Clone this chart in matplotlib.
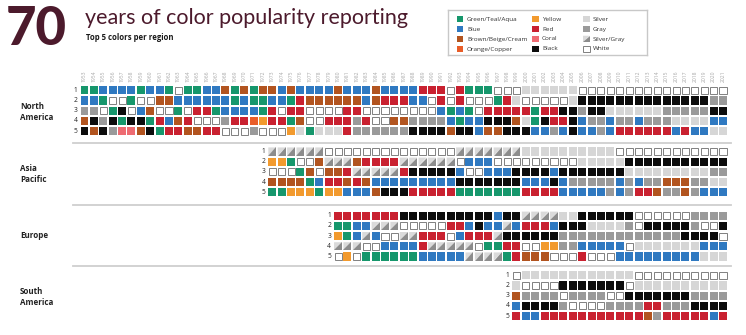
import matplotlib
matplotlib.use("Agg")
import matplotlib.pyplot as plt
from matplotlib.patches import Rectangle, Polygon
from matplotlib.lines import Line2D

# ---------------- data ----------------
years = list(range(1953, 2022))

legend_codes = ["G", "B", "N", "O", "Y", "R", "C", "K", "S", "A", "X", "W"]
legend_labels = ["Green/Teal/Aqua", "Blue", "Brown/Beige/Cream", "Orange/Copper",
                 "Yellow", "Red", "Coral", "Black",
                 "Silver", "Gray", "Silver/Gray", "White"]

region_names = ["North\nAmerica", "Asia\nPacific", "Europe", "South\nAmerica"]
region_start_years = [1953, 1973, 1980, 1999]

# rank 1..5 per region, one code per year from the region's start year
north_america = [
    "GGBBBBGBBGWGGBBNGNGNNB" "NBBBBNBBBNB" "BBBRRRWRGGG" "WWW" "SSSSSS" "WWWWWWWWWWWWWWWW",
    "BBGWWGWWNNBBBBBBGBGGBBGRNNNNNNBNR" "RRBBWRWRWWWGRSWWWWWSKKKKKKKKKKKKKKAA",
    "AAWGKWBNWWGWRRGBBBBGRWRRWWWWRRWWW" "WWWWWBGBGWRRRRRGRRKKAKKSSSSSSAAAAAKK",
    "NKAKGKKGRBNRWWWARROYRRGNWWRRRARWW" "NNAAAABGBBKKKNSGKRRKBAABAABAAASSSSBB",
    "KNKACCNKGRRNNRRWWWAWWWYSGSSSRAAAA" "AAKKKKNKKBNNKKKBBABKBBABRRRRRRBRBBSS",
]
asia_pacific = [
    "XXXXXX" "WWWWWWWWWWWWWW" "XXXXXXX" "SSSSSSSSSS" "WWWWWWWWWWWW",
    "YYGWWNXXXNRRRRXXXXXXW" "BBB" "WWWWWWWWW" "SSSSS" "KKKKKKKKKKK",
    "WWWGNWNNRXXXXXRKKKKKB" "WWBBBKKKKBKKKKKKKSSSSSSSSSAA",
    "NNNNGBRRNRNBBBBBBBBBK" "KKKKKKBBBKBAAAAABABAANNNAASS",
    "GGYYYGYYBBBNKKKRRRRRG" "GGGGGGRRRRBBBBBABARRNAANABBB",
]
europe = [
    "RRRRRRR" "KKKKKKKKKK" "B" "KK" "XXXX" "SS" "KKKKKK" "WWWWWW" "AAAA",
    "GGBBXXXWWWWWRRBKBB" "XBRRRBKKKSSSSAWKKKKKAWWK",
    "YGBXBWWXXRRRWBRRRX" "KKKKKKAAAAAAAAAAAAAKKKKW",
    "XXXWWBBBBRXXXXXWGG" "RRWWYYAABBBBBWSSSSSSSBBB",
    "WYWGGGGGGBBBBBXXXX" "GRNNNWWWRWWWBBBBBBBBBSSS",
]
south_america = [
    "WSSSSSSSSSSSSWWWWWWWWWW",
    "SWWWWKKKKKKKWSSSSSSSSSS",
    "NAAAAWAAAAWWKKKKKKKAAAA",
    "BKKKKAWWWWAAAARRAAAKKKK",
    "RBBRRRRRRRRRRRNARRRRRBR",
]
region_data = [north_america, asia_pacific, europe, south_america]

# ---------------- style ----------------
palette = {"G": "#16976c", "B": "#2f79c1", "N": "#b2541f", "O": "#e95d28",
           "Y": "#f29a2e", "R": "#c92130", "C": "#ee6b72", "K": "#0c0c0c",
           "S": "#d6d6d6", "A": "#9a9a9a", "W": "#ffffff"}
split_light, split_dark = "#dadada", "#8c8c8c"
maroon = "#4c1a2c"

W, H = 746, 335
fig = plt.figure(figsize=(W / 100, H / 100), dpi=100)
fig.patch.set_facecolor("white")

def fx(px):
    return px / W

def fy(py):
    return 1 - py / H

pitch_x = 9.39
pitch_y = 10.2
ax_left = 84.5 - pitch_x / 2
ax_width = pitch_x * len(years)
row1_centers = [90.3, 151.5, 215.7, 275.3]
name_centers = [112, 174, 236, 297]
separators = [143.3, 205.0, 265.7]

cw, ch = 0.85, 0.80


def draw_cell(ax, x, y, code):
    if code == "X":
        tl = (x - cw / 2, y - ch / 2)
        tr = (x + cw / 2, y - ch / 2)
        bl = (x - cw / 2, y + ch / 2)
        br = (x + cw / 2, y + ch / 2)
        ax.add_patch(Polygon([tl, tr, bl], closed=True, fc=split_light, ec="none"))
        ax.add_patch(Polygon([tr, br, bl], closed=True, fc=split_dark, ec="none"))
    elif code == "W":
        ax.add_patch(Rectangle((x - cw / 2 + 0.05, y - ch / 2 + 0.05), cw - 0.1, ch - 0.1,
                               fc="white", ec="#808080", lw=0.7))
    else:
        ax.add_patch(Rectangle((x - cw / 2, y - ch / 2), cw, ch, fc=palette[code], ec="none"))


for i, (rows, start) in enumerate(zip(region_data, region_start_years)):
    top = row1_centers[i] - pitch_y / 2
    ax = fig.add_axes([fx(ax_left), fy(top + 5 * pitch_y), fx(ax_width), 5 * pitch_y / H])
    ax.set_xlim(years[0] - 0.5, years[-1] + 0.5)
    ax.set_ylim(5.5, 0.5)
    ax.axis("off")
    for r, codes in enumerate(rows, start=1):
        for k, code in enumerate(codes):
            draw_cell(ax, start + k, r, code)
        ax.text(start - 0.95, r, str(r), ha="center", va="center", fontsize=4.8,
                color="#222222", family="Open Sans")
    if i == 0:
        for yr in years:
            ax.text(yr, -0.35, str(yr), rotation=90, ha="center", va="center",
                    fontsize=3.6, color="#a8a8a8", family="Open Sans", clip_on=False)
    fig.text(fx(20), fy(name_centers[i]), region_names[i], ha="left", va="center",
             fontsize=5.8, fontweight="bold", color="#222222", family="Open Sans",
             linespacing=1.15)

for s in separators:
    fig.add_artist(Line2D([fx(73), fx(731)], [fy(s), fy(s)], color="#cfcfcf", lw=1.3))

# ---------------- title ----------------
fig.text(fx(6), fy(45), "70", ha="left", va="baseline", fontsize=38, fontweight="black",
         color=maroon, family=["Lato", "DejaVu Sans"])
fig.text(fx(85), fy(18), "years of color popularity reporting", ha="left", va="center",
         fontsize=15.5, color=maroon, family="Lato")
fig.text(fx(86), fy(38), "Top 5 colors per region", ha="left", va="center",
         fontsize=5.6, fontweight="bold", color="#1a1a1a", family="Open Sans")

# ---------------- legend ----------------
lg_left, lg_top, lg_w, lg_h = 448, 10, 199, 45
lax = fig.add_axes([fx(lg_left), fy(lg_top + lg_h), fx(lg_w), lg_h / H])
lax.set_xlim(0, lg_w)
lax.set_ylim(lg_h, 0)
lax.set_xticks([])
lax.set_yticks([])
for sp in lax.spines.values():
    sp.set_color("#c8c8c8")
    sp.set_linewidth(1.0)
col_x = [9, 84, 135]
row_y = [9, 19, 29, 39]
sq = 6.5
for idx, (code, label) in enumerate(zip(legend_codes, legend_labels)):
    cx = col_x[idx // 4]
    cy = row_y[idx % 4]
    if code == "X":
        lax.add_patch(Polygon([(cx, cy - sq / 2), (cx + sq, cy - sq / 2), (cx, cy + sq / 2)],
                              closed=True, fc=split_light, ec="none"))
        lax.add_patch(Polygon([(cx + sq, cy - sq / 2), (cx + sq, cy + sq / 2), (cx, cy + sq / 2)],
                              closed=True, fc=split_dark, ec="none"))
    elif code == "W":
        lax.add_patch(Rectangle((cx, cy - sq / 2), sq, sq, fc="white", ec="#808080", lw=0.7))
    else:
        lax.add_patch(Rectangle((cx, cy - sq / 2), sq, sq, fc=palette[code], ec="none"))
    lax.text(cx + sq + 3.5, cy, label, ha="left", va="center", fontsize=4.6,
             color="#333333", family="Open Sans")

fig.savefig("out.png", dpi=100, facecolor="white")
